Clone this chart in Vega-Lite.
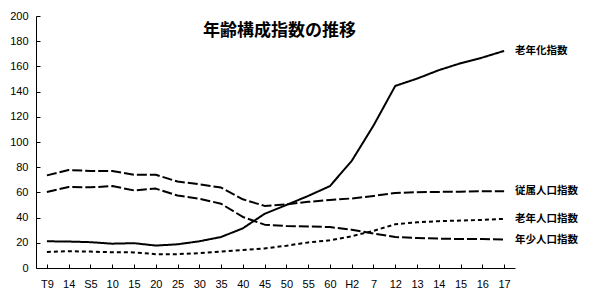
{
  "$schema": "https://vega.github.io/schema/vega-lite/v6.json",
  "autosize": {"type": "none"},
  "width": 479,
  "height": 252,
  "padding": {"left": 36, "top": 16, "right": 83, "bottom": 35},
  "background": "white",
  "title": {
    "text": "年齢構成指数の推移",
    "font": "Noto Sans CJK JP",
    "fontSize": 17,
    "fontWeight": "bold",
    "color": "black",
    "anchor": "middle",
    "baseline": "middle",
    "offset": -25,
    "dy": 13,
    "dx": 4
  },
  "config": {
    "view": {"stroke": null},
    "axis": {
      "domainColor": "black",
      "tickColor": "black",
      "labelColor": "black",
      "grid": false,
      "labelFont": "Liberation Sans",
      "labelFontSize": 11,
      "tickSize": -4,
      "domainWidth": 1,
      "tickWidth": 1,
      "title": null
    }
  },
  "data": {
    "values": [
      {"year": "T9", "series": "従属人口指数", "value": 73.5},
      {"year": "T14", "series": "従属人口指数", "value": 77.8},
      {"year": "S5", "series": "従属人口指数", "value": 77},
      {"year": "S10", "series": "従属人口指数", "value": 77},
      {"year": "S15", "series": "従属人口指数", "value": 74},
      {"year": "S20", "series": "従属人口指数", "value": 74},
      {"year": "S25", "series": "従属人口指数", "value": 68.6},
      {"year": "S30", "series": "従属人口指数", "value": 66.5},
      {"year": "S35", "series": "従属人口指数", "value": 63.8},
      {"year": "S40", "series": "従属人口指数", "value": 54.5},
      {"year": "S45", "series": "従属人口指数", "value": 49.3},
      {"year": "S50", "series": "従属人口指数", "value": 50.5},
      {"year": "S55", "series": "従属人口指数", "value": 52.5},
      {"year": "S60", "series": "従属人口指数", "value": 54},
      {"year": "H2", "series": "従属人口指数", "value": 55.2},
      {"year": "H7", "series": "従属人口指数", "value": 57.2},
      {"year": "H12", "series": "従属人口指数", "value": 59.5},
      {"year": "H13", "series": "従属人口指数", "value": 60.2},
      {"year": "H14", "series": "従属人口指数", "value": 60.4},
      {"year": "H15", "series": "従属人口指数", "value": 60.6},
      {"year": "H16", "series": "従属人口指数", "value": 61},
      {"year": "H17", "series": "従属人口指数", "value": 61},
      {"year": "T9", "series": "年少人口指数", "value": 60.3},
      {"year": "T14", "series": "年少人口指数", "value": 64.3},
      {"year": "S5", "series": "年少人口指数", "value": 64},
      {"year": "S10", "series": "年少人口指数", "value": 65},
      {"year": "S15", "series": "年少人口指数", "value": 61.6},
      {"year": "S20", "series": "年少人口指数", "value": 63},
      {"year": "S25", "series": "年少人口指数", "value": 57.5},
      {"year": "S30", "series": "年少人口指数", "value": 55},
      {"year": "S35", "series": "年少人口指数", "value": 51},
      {"year": "S40", "series": "年少人口指数", "value": 40.5},
      {"year": "S45", "series": "年少人口指数", "value": 34.4},
      {"year": "S50", "series": "年少人口指数", "value": 33.4},
      {"year": "S55", "series": "年少人口指数", "value": 33},
      {"year": "S60", "series": "年少人口指数", "value": 32.5},
      {"year": "H2", "series": "年少人口指数", "value": 30.4},
      {"year": "H7", "series": "年少人口指数", "value": 27.3},
      {"year": "H12", "series": "年少人口指数", "value": 24.6},
      {"year": "H13", "series": "年少人口指数", "value": 23.8},
      {"year": "H14", "series": "年少人口指数", "value": 23.3},
      {"year": "H15", "series": "年少人口指数", "value": 23},
      {"year": "H16", "series": "年少人口指数", "value": 23},
      {"year": "H17", "series": "年少人口指数", "value": 22.5},
      {"year": "T9", "series": "老年人口指数", "value": 12.7},
      {"year": "T14", "series": "老年人口指数", "value": 13.3},
      {"year": "S5", "series": "老年人口指数", "value": 13},
      {"year": "S10", "series": "老年人口指数", "value": 12.5},
      {"year": "S15", "series": "老年人口指数", "value": 12.4},
      {"year": "S20", "series": "老年人口指数", "value": 11},
      {"year": "S25", "series": "老年人口指数", "value": 11},
      {"year": "S30", "series": "老年人口指数", "value": 11.8},
      {"year": "S35", "series": "老年人口指数", "value": 13},
      {"year": "S40", "series": "老年人口指数", "value": 14.3},
      {"year": "S45", "series": "老年人口指数", "value": 15.5},
      {"year": "S50", "series": "老年人口指数", "value": 17.7},
      {"year": "S55", "series": "老年人口指数", "value": 20.3},
      {"year": "S60", "series": "老年人口指数", "value": 22},
      {"year": "H2", "series": "老年人口指数", "value": 25.2},
      {"year": "H7", "series": "老年人口指数", "value": 29.5},
      {"year": "H12", "series": "老年人口指数", "value": 34.7},
      {"year": "H13", "series": "老年人口指数", "value": 36.3},
      {"year": "H14", "series": "老年人口指数", "value": 37.2},
      {"year": "H15", "series": "老年人口指数", "value": 37.6},
      {"year": "H16", "series": "老年人口指数", "value": 38.2},
      {"year": "H17", "series": "老年人口指数", "value": 39},
      {"year": "T9", "series": "老年化指数", "value": 21.2},
      {"year": "T14", "series": "老年化指数", "value": 21},
      {"year": "S5", "series": "老年化指数", "value": 20.5},
      {"year": "S10", "series": "老年化指数", "value": 19.3},
      {"year": "S15", "series": "老年化指数", "value": 19.7},
      {"year": "S20", "series": "老年化指数", "value": 17.8},
      {"year": "S25", "series": "老年化指数", "value": 18.8},
      {"year": "S30", "series": "老年化指数", "value": 21.2},
      {"year": "S35", "series": "老年化指数", "value": 24.6},
      {"year": "S40", "series": "老年化指数", "value": 31.5},
      {"year": "S45", "series": "老年化指数", "value": 43},
      {"year": "S50", "series": "老年化指数", "value": 50},
      {"year": "S55", "series": "老年化指数", "value": 57.2},
      {"year": "S60", "series": "老年化指数", "value": 65},
      {"year": "H2", "series": "老年化指数", "value": 85},
      {"year": "H7", "series": "老年化指数", "value": 113},
      {"year": "H12", "series": "老年化指数", "value": 144.5},
      {"year": "H13", "series": "老年化指数", "value": 150.3},
      {"year": "H14", "series": "老年化指数", "value": 157},
      {"year": "H15", "series": "老年化指数", "value": 162.5},
      {"year": "H16", "series": "老年化指数", "value": 167},
      {"year": "H17", "series": "老年化指数", "value": 172.3}
    ]
  },
  "encoding": {
    "x": {
      "field": "year",
      "type": "ordinal",
      "sort": null,
      "scale": {"type": "point", "padding": 0.5},
      "axis": {
        "labelAngle": 0,
        "labelPadding": 14,
        "labelBaseline": "top",
        "labelExpr": "indexof(['T9','S5','H2'], datum.value) >= 0 ? datum.value : substring(datum.value, 1)"
      }
    },
    "y": {
      "field": "value",
      "type": "quantitative",
      "scale": {"domain": [0, 200], "nice": false},
      "axis": {"values": [0, 20, 40, 60, 80, 100, 120, 140, 160, 180, 200], "labelPadding": 12}
    }
  },
  "layer": [
    {
      "mark": {"type": "line", "color": "black", "strokeJoin": "round"},
      "encoding": {
        "detail": {"field": "series"},
        "strokeDash": {
          "field": "series",
          "type": "nominal",
          "scale": {
            "domain": ["従属人口指数", "年少人口指数", "老年人口指数", "老年化指数"],
            "range": [[10, 3], [10, 3], [4, 3], [1, 0]]
          },
          "legend": null
        },
        "strokeWidth": {
          "field": "series",
          "type": "nominal",
          "scale": {
            "domain": ["従属人口指数", "年少人口指数", "老年人口指数", "老年化指数"],
            "range": [2, 2, 1.5, 1.5]
          },
          "legend": null
        }
      }
    },
    {
      "transform": [{"filter": "datum.year == 'H17'"}],
      "mark": {
        "type": "text",
        "align": "left",
        "baseline": "middle",
        "dx": 11,
        "font": "Noto Sans CJK JP",
        "fontSize": 10.5,
        "fontWeight": "bold",
        "color": "black"
      },
      "encoding": {"text": {"field": "series"}}
    }
  ]
}
